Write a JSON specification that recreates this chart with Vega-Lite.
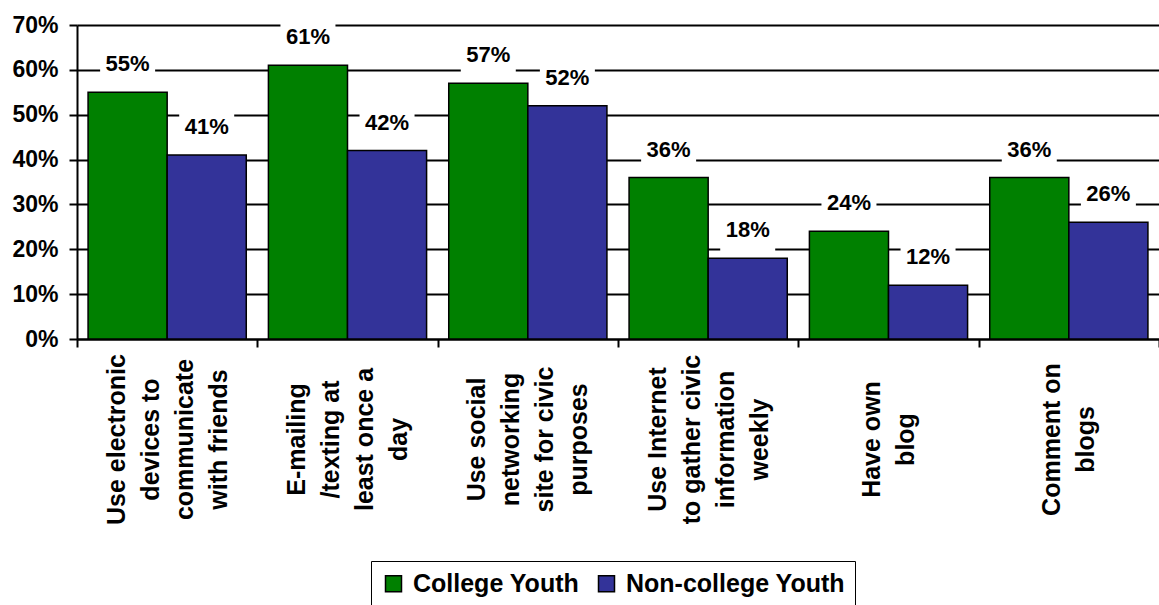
{
  "$schema": "https://vega.github.io/schema/vega-lite/v6.json",
  "width": 1082,
  "height": 314,
  "autosize": {"type": "none"},
  "padding": {"left": 77, "top": 25, "right": 0, "bottom": 266},
  "background": "white",
  "config": {"view": {"stroke": null}, "font": "Liberation Sans"},
  "data": {
    "values": [
      {"activity": "Use electronic|devices to|communicate|with friends", "group": "College Youth", "pct": 0.55},
      {"activity": "Use electronic|devices to|communicate|with friends", "group": "Non-college Youth", "pct": 0.41},
      {"activity": "E-mailing|/texting at|least once a|day", "group": "College Youth", "pct": 0.61},
      {"activity": "E-mailing|/texting at|least once a|day", "group": "Non-college Youth", "pct": 0.42},
      {"activity": "Use social|networking|site for civic|purposes", "group": "College Youth", "pct": 0.57},
      {"activity": "Use social|networking|site for civic|purposes", "group": "Non-college Youth", "pct": 0.52},
      {"activity": "Use Internet|to gather civic|information|weekly", "group": "College Youth", "pct": 0.36},
      {"activity": "Use Internet|to gather civic|information|weekly", "group": "Non-college Youth", "pct": 0.18},
      {"activity": "Have own|blog", "group": "College Youth", "pct": 0.24},
      {"activity": "Have own|blog", "group": "Non-college Youth", "pct": 0.12},
      {"activity": "Comment on|blogs", "group": "College Youth", "pct": 0.36},
      {"activity": "Comment on|blogs", "group": "Non-college Youth", "pct": 0.26}
    ]
  },
  "encoding": {
    "x": {
      "field": "activity",
      "type": "nominal",
      "sort": null,
      "scale": {"paddingInner": 0, "paddingOuter": 0},
      "axis": {
        "title": null,
        "labelExpr": "length(split(datum.label, '|')) == 2 ? split('|' + datum.label + '|', '|') : split(datum.label, '|')",
        "labelAngle": -90,
        "labelAlign": "center",
        "labelBaseline": "middle",
        "labelFontSize": 25,
        "labelFontWeight": "bold",
        "labelColor": "black",
        "labelLineHeight": 34,
        "labelLimit": 600,
        "labelOverlap": false,
        "labelPadding": 92,
        "labelOffset": -51,
        "tickBand": "extent",
        "tickSize": 8,
        "tickWidth": 2,
        "tickColor": "black",
        "domainColor": "black",
        "domainWidth": 2,
        "grid": false
      }
    },
    "xOffset": {
      "field": "group",
      "type": "nominal",
      "sort": ["College Youth", "Non-college Youth"],
      "scale": {"paddingInner": 0, "paddingOuter": 0.14}
    },
    "y": {
      "field": "pct",
      "type": "quantitative",
      "scale": {"domain": [0, 0.7], "nice": false},
      "axis": {
        "title": null,
        "format": ".0%",
        "values": [0, 0.1, 0.2, 0.3, 0.4, 0.5, 0.6, 0.7],
        "grid": true,
        "gridColor": "black",
        "gridWidth": 2,
        "gridOpacity": 1,
        "domainColor": "black",
        "domainWidth": 2,
        "tickColor": "black",
        "tickWidth": 2,
        "tickSize": 8,
        "labelFontSize": 23,
        "labelFontWeight": "bold",
        "labelColor": "black",
        "labelPadding": 11
      }
    }
  },
  "layer": [
    {
      "mark": {"type": "bar", "stroke": "black", "strokeWidth": 1.5},
      "encoding": {
        "color": {
          "field": "group",
          "type": "nominal",
          "scale": {"domain": ["College Youth", "Non-college Youth"], "range": ["#008000", "#333399"]},
          "legend": {
            "orient": "none",
            "legendX": 294,
            "legendY": 536,
            "direction": "horizontal",
            "title": null,
            "symbolType": "square",
            "symbolSize": 256,
            "symbolStrokeColor": "black",
            "symbolStrokeWidth": 1.5,
            "symbolOpacity": 1,
            "labelFontSize": 25,
            "labelFontWeight": "bold",
            "labelColor": "black",
            "labelLimit": 400,
            "labelOffset": 7,
            "columnPadding": 14,
            "padding": 10,
            "strokeColor": "black",
            "fillColor": "white"
          }
        }
      }
    },
    {
      "mark": {
        "type": "point",
        "shape": "M-1.1,-0.9H1.1V0.9H-1.1Z",
        "size": 2500,
        "filled": true,
        "color": "white",
        "opacity": 1,
        "strokeWidth": 0,
        "yOffset": -28
      }
    },
    {
      "mark": {"type": "text", "dy": -28, "fontSize": 22, "fontWeight": "bold", "baseline": "middle", "color": "black"},
      "encoding": {"text": {"field": "pct", "type": "quantitative", "format": ".0%"}}
    }
  ]
}
